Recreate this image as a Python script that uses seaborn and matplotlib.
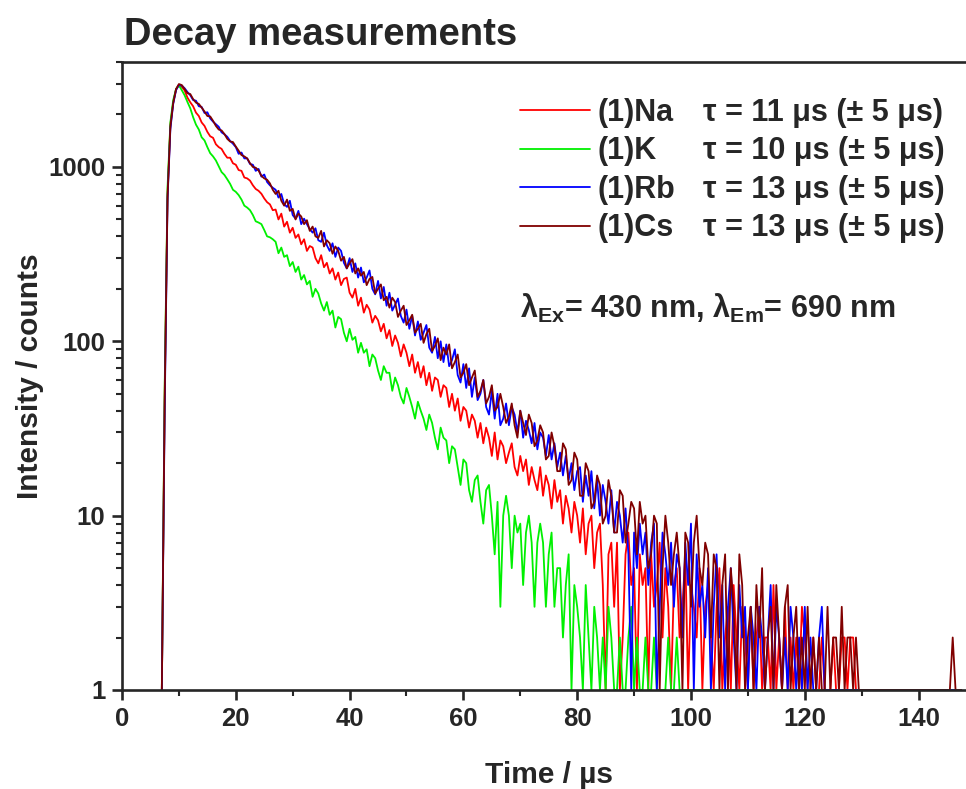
import matplotlib
matplotlib.use("Agg")
import matplotlib.pyplot as plt
import matplotlib.ticker as mticker
from matplotlib.lines import Line2D
import numpy as np
import pandas as pd
import seaborn as sns

# time channels in microseconds (0.5 us bins, first channel at 7 us)
time_us = np.arange(7, 148, 0.5)

# counts, one row = 5 us
na_counts = [
    1, 50, 700, 1750, 2350, 2780, 2950, 2880, 2750, 2500,
    2350, 2230, 2050, 1960, 1800, 1720, 1590, 1500, 1470, 1350,
    1300, 1270, 1190, 1130, 1130, 1050, 1030, 960, 950, 870,
    860, 835, 785, 748, 730, 702, 660, 628, 610, 565,
    570, 500, 540, 455, 485, 420, 448, 392, 410, 360,
    385, 330, 352, 345, 300, 280, 312, 266, 282, 245,
    262, 226, 248, 210, 228, 232, 190, 178, 200, 160,
    178, 146, 162, 152, 128, 140, 132, 114, 126, 104,
    116, 94, 108, 98, 82, 96, 86, 72, 84, 66,
    76, 62, 72, 56, 66, 52, 62, 60, 48, 56,
    54, 42, 50, 40, 47, 35, 42, 40, 32, 38,
    35, 28, 34, 26, 32, 28, 22, 30, 21, 27,
    25, 20, 23, 26, 19, 17, 22, 18, 21, 15,
    19, 16, 14, 19, 13, 17, 15, 11, 16, 12,
    14, 9, 13, 11, 8, 12, 10, 7, 11, 6,
    9, 10, 5, 8, 9, 4, 1, 6, 7, 3,
    7, 1, 2, 6, 8, 4, 5, 1, 6, 4,
    5, 1, 6, 3, 4, 7, 2, 5, 3, 1,
    4, 5, 2, 3, 6, 1, 4, 3, 2, 5,
    1, 3, 4, 2, 1, 3, 5, 1, 2, 3,
    1, 4, 2, 1, 3, 2, 1, 3, 1, 2,
    3, 1, 2, 2, 1, 4, 1, 2, 1, 3,
    1, 2, 1, 2, 1, 3, 2, 1, 1, 2,
    1, 1, 2, 1, 1, 1, 2, 1, 1, 2,
    2, 1, 2, 2, 1, 1, 1, 1, 1, 1,
    1, 1, 1, 1, 1, 1, 1, 1, 1, 1,
    1, 1, 1, 1, 1, 1, 1, 1, 1, 1,
    1, 1, 1, 1, 1, 1, 1, 1, 1, 1,
    1, 1,
]
k_counts = [
    1, 55, 760, 1800, 2420, 2800, 2940, 2760, 2580, 2360,
    2170, 1930, 1750, 1640, 1480, 1420, 1300, 1200, 1150, 1090,
    1010, 935, 900, 850, 800, 740, 720, 690, 650, 600,
    585, 565, 530, 488, 480, 470, 435, 400, 395, 385,
    372, 320, 345, 305, 312, 270, 285, 250, 268, 226,
    240, 212, 222, 180, 200, 188, 165, 150, 168, 142,
    150, 120, 138, 134, 112, 100, 118, 102, 106, 86,
    98, 86, 90, 72, 84, 80, 68, 60, 72, 66,
    66, 52, 62, 56, 48, 44, 54, 48, 42, 36,
    45, 40, 36, 31, 38, 34, 28, 24, 32, 28,
    27, 20, 25, 24, 19, 15, 21, 20, 14, 12,
    16, 17, 12, 9, 14, 15, 10, 6, 12, 3,
    10, 13, 10, 5, 10, 8, 9, 4, 8, 10,
    7, 3, 7, 9, 7, 3, 6, 8, 3, 5,
    5, 2, 4, 6, 1, 4, 3, 2, 1, 4,
    2, 1, 3, 2, 1, 2, 1, 3, 2, 1,
    1, 2, 1, 1, 2, 3, 1, 2, 1, 1,
    2, 1, 1, 2, 1, 1, 1, 1, 2, 1,
    1, 2, 1, 1, 1, 1, 1, 1, 1, 1,
    1, 1, 1, 1, 1, 1, 1, 1, 1, 1,
    1, 1, 1, 1, 1, 1, 1, 1, 1, 1,
    1, 1, 1, 1, 1, 1, 1, 1, 1, 1,
    1, 1, 1, 1, 1, 1, 1, 1, 1, 1,
    1, 1, 1, 1, 1, 1, 1, 1, 1, 1,
    1, 1, 1, 1, 1, 1, 1, 1, 1, 1,
    1, 1, 1, 1, 1, 1, 1, 1, 1, 1,
    1, 1, 1, 1, 1, 1, 1, 1, 1, 1,
    1, 1, 1, 1, 1, 1, 1, 1, 1, 1,
    1, 1,
]
rb_counts = [
    1, 40, 650, 1650, 2300, 2760, 2960, 2930, 2830, 2690,
    2580, 2420, 2400, 2230, 2210, 2040, 2060, 1900, 1820, 1760,
    1700, 1580, 1540, 1490, 1410, 1360, 1300, 1190, 1210, 1120,
    1120, 1040, 1030, 950, 975, 880, 905, 820, 785, 760,
    740, 668, 700, 612, 590, 640, 530, 505, 560, 470,
    505, 470, 440, 420, 445, 380, 372, 420, 356, 330,
    365, 305, 345, 330, 282, 262, 300, 250, 280, 232,
    265, 218, 232, 255, 200, 186, 222, 176, 205, 160,
    190, 150, 162, 176, 140, 128, 152, 118, 140, 108,
    130, 102, 112, 124, 92, 86, 106, 80, 100, 76,
    96, 72, 78, 90, 64, 58, 74, 54, 70, 48,
    62, 46, 50, 60, 42, 38, 52, 36, 50, 33,
    36, 44, 33, 42, 38, 30, 40, 28, 35, 31,
    26, 34, 24, 30, 28, 22, 29, 21, 26, 19,
    23, 17, 22, 16, 20, 14, 18, 19, 12, 17,
    13, 18, 11, 16, 10, 15, 12, 9, 14, 8,
    12, 10, 7, 11, 6, 1, 8, 5, 9, 6,
    8, 4, 7, 9, 1, 3, 8, 6, 4, 7,
    3, 6, 5, 2, 7, 4, 9, 1, 6, 3,
    4, 2, 5, 1, 3, 6, 2, 4, 1, 3,
    5, 2, 1, 4, 2, 3, 1, 3, 2, 1,
    3, 2, 1, 2, 4, 1, 3, 2, 1, 2,
    1, 3, 2, 1, 2, 1, 3, 1, 2, 1,
    1, 2, 3, 1, 1, 1, 1, 1, 1, 1,
    1, 1, 1, 1, 1, 1, 1, 1, 1, 1,
    1, 1, 1, 1, 1, 1, 1, 1, 1, 1,
    1, 1, 1, 1, 1, 1, 1, 1, 1, 1,
    1, 1, 1, 1, 1, 1, 1, 1, 1, 1,
    1, 1,
]
cs_counts = [
    1, 45, 670, 1700, 2330, 2800, 2990, 2950, 2800, 2650,
    2620, 2450, 2340, 2300, 2190, 2080, 1960, 1950, 1840, 1720,
    1640, 1620, 1545, 1450, 1400, 1390, 1310, 1240, 1170, 1150,
    1120, 1050, 1000, 990, 955, 890, 860, 845, 805, 740,
    700, 730, 640, 600, 650, 560, 575, 500, 540, 520,
    470, 495, 430, 455, 400, 392, 430, 350, 380, 365,
    318, 350, 330, 290, 305, 262, 280, 296, 245, 262,
    238, 250, 210, 228, 234, 188, 200, 212, 172, 180,
    156, 178, 168, 138, 150, 160, 124, 132, 142, 112,
    118, 126, 98, 110, 118, 88, 94, 104, 78, 92,
    84, 96, 70, 76, 84, 62, 66, 74, 56, 62,
    68, 48, 52, 60, 44, 48, 56, 40, 42, 50,
    42, 34, 37, 44, 33, 28, 40, 34, 29, 38,
    34, 25, 27, 33, 30, 21, 22, 30, 25, 18,
    18, 26, 24, 15, 16, 23, 21, 13, 13, 20,
    18, 11, 12, 17, 15, 9, 10, 16, 13, 8,
    8, 14, 13, 7, 9, 12, 11, 6, 12, 9,
    10, 5, 6, 10, 9, 1, 5, 10, 7, 4,
    6, 8, 5, 1, 8, 7, 3, 7, 10, 5,
    4, 7, 6, 2, 6, 5, 1, 4, 6, 1,
    5, 3, 1, 6, 4, 1, 2, 3, 1, 4,
    2, 5, 1, 2, 3, 1, 4, 2, 1, 3,
    4, 1, 2, 3, 1, 2, 1, 3, 1, 2,
    1, 2, 1, 1, 3, 1, 2, 2, 1, 3,
    1, 2, 2, 1, 2, 1, 1, 1, 1, 1,
    1, 1, 1, 1, 1, 1, 1, 1, 1, 1,
    1, 1, 1, 1, 1, 1, 1, 1, 1, 1,
    1, 1, 1, 1, 1, 1, 1, 1, 2, 1,
    1, 1,
]

samples = ["(1)Na", "(1)K", "(1)Rb", "(1)Cs"]
lifetimes = [
    "τ = 11 μs (± 5 μs)",
    "τ = 10 μs (± 5 μs)",
    "τ = 13 μs (± 5 μs)",
    "τ = 13 μs (± 5 μs)",
]
colors = ["#ff0000", "#00f000", "#0000ff", "#800000"]
palette = dict(zip(samples, colors))

df = pd.concat(
    [
        pd.DataFrame({"time": time_us, "intensity": vals, "sample": name})
        for name, vals in zip(samples, [na_counts, k_counts, rb_counts, cs_counts])
    ],
    ignore_index=True,
)

sns.set_style("ticks")
plt.rcParams["font.family"] = ["Liberation Sans", "DejaVu Sans"]
plt.rcParams["font.weight"] = "bold"
plt.rcParams["axes.labelweight"] = "bold"
plt.rcParams["mathtext.fontset"] = "custom"
plt.rcParams["mathtext.rm"] = "Liberation Sans:bold"
plt.rcParams["mathtext.bf"] = "Liberation Sans:bold"
plt.rcParams["mathtext.it"] = "Liberation Sans:bold"

fig = plt.figure(figsize=(9.66, 7.89), dpi=100)
ax = fig.add_axes([0.1263, 0.1255, 0.8835, 0.7959])
ax.set_yscale("log")

sns.lineplot(
    data=df, x="time", y="intensity", hue="sample", hue_order=samples,
    palette=palette, estimator=None, sort=False, lw=1.3, legend=False, ax=ax,
)

ax.set_xlim(0, 150)
ax.set_ylim(1, 4000)
ax.xaxis.set_major_locator(mticker.MultipleLocator(20))
ax.xaxis.set_minor_locator(mticker.MultipleLocator(10))
ax.yaxis.set_major_locator(mticker.LogLocator(base=10))
ax.yaxis.set_minor_locator(mticker.LogLocator(base=10, subs=np.arange(2, 10)))
ax.yaxis.set_major_formatter(mticker.FuncFormatter(lambda v, _: f"{v:g}"))
ax.yaxis.set_minor_formatter(mticker.NullFormatter())

for side in ["left", "bottom", "top", "right"]:
    ax.spines[side].set_linewidth(1.9)
ax.tick_params(which="major", length=7, width=1.9, labelsize=18.5, pad=5)
ax.tick_params(which="minor", length=4, width=1.5)

ax.set_xlabel("Time / µs", fontsize=21.5, labelpad=22)
ax.set_ylabel("Intensity / counts", fontsize=21.5, labelpad=3)

fig.text(0.128, 0.9435, "Decay measurements", fontsize=27.5,
         fontweight="bold", va="baseline", ha="left")

handles = [Line2D([], [], color=c, lw=1.3) for c in colors]
leg = ax.legend(
    handles, samples, loc="upper left", bbox_to_anchor=(0.4663, 0.9427),
    frameon=False, fontsize=22, handlelength=2.3, handletextpad=0.25,
    labelspacing=0.275, borderaxespad=0, borderpad=0,
)

# tau column aligned with the legend rows
fig.canvas.draw()
inv = ax.transAxes.inverted()
for txt, tau in zip(leg.get_texts(), lifetimes):
    bb = txt.get_window_extent()
    y_mid = inv.transform((0, (bb.y0 + bb.y1) / 2))[1]
    ax.text(0.6807, y_mid, tau, transform=ax.transAxes, fontsize=22,
            fontweight="bold", va="center", ha="left")

ax.text(0.4663, 0.592, r"λ$_{\mathbf{Ex}}$= 430 nm, λ$_{\mathbf{Em}}$= 690 nm",
        transform=ax.transAxes, fontsize=22, fontweight="bold",
        va="baseline", ha="left")

fig.savefig("out.png", dpi=100)
